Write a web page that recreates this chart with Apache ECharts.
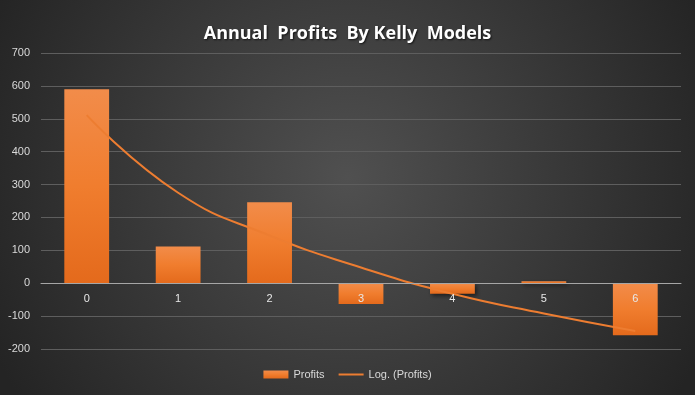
<!DOCTYPE html>
<html>
<head>
<meta charset="utf-8">
<script src="https://cdn.jsdelivr.net/npm/echarts@6/dist/echarts.min.js"></script>
<style>html,body{margin:0;padding:0;background:#333;}#c{width:695px;height:395px;}</style>
</head>
<body>
<div id="c"></div>
<script>
const categories = ['0','1','2','3','4','5','6'];
const profits = [590, 112, 246, -63, -32, 6, -158];
const logTrend = [511, 275, 145, 48, -32, -92, -145];
const yTicks = {min: -200, max: 700, interval: 100};

const chart = echarts.init(document.getElementById('c'));
chart.setOption({
  backgroundColor: {
    type: 'radial', x: 0.5, y: 0.45, r: 1.0,
    colorStops: [{offset: 0, color: '#505050'}, {offset: 1, color: '#242424'}]
  },
  title: {
    text: 'Annual  Profits  By Kelly  Models',
    left: 'center', top: 20,
    textStyle: {
      color: '#ffffff', fontFamily: 'Open Sans', fontWeight: 'bold', fontSize: 18,
      textShadowColor: 'rgba(0,0,0,0.7)', textShadowBlur: 2, textShadowOffsetX: 1, textShadowOffsetY: 1
    }
  },
  legend: {
    bottom: 10, left: 'center', itemGap: 14, itemWidth: 25, itemHeight: 8,
    textStyle: {color: '#d9d9d9', fontFamily: 'Liberation Sans', fontSize: 11},
    data: [
      {name: 'Profits', icon: 'rect'},
      {name: 'Log. (Profits)', icon: 'path://M0,4 L25,4 L25,6 L0,6 Z'}
    ]
  },
  grid: {left: 41, right: 14, top: 53, bottom: 46, containLabel: false},
  xAxis: {
    type: 'category', data: categories, offset: -66, z: 10,
    axisLine: {onZero: false, lineStyle: {color: '#a6a6a6', width: 1}},
    axisTick: {show: false},
    axisLabel: {color: '#e8e8e8', fontFamily: 'Liberation Sans', fontSize: 11, margin: 10},
    splitLine: {show: false}
  },
  yAxis: {
    type: 'value', min: yTicks.min, max: yTicks.max, interval: yTicks.interval,
    axisLine: {show: false}, axisTick: {show: false},
    axisLabel: {color: '#d9d9d9', fontFamily: 'Liberation Sans', fontSize: 11, margin: 11},
    splitLine: {lineStyle: {color: '#5e5e5e', width: 1}}
  },
  series: [
    {
      name: 'Profits', type: 'bar', data: profits, barWidth: '49%', z: 2,
      itemStyle: {
        color: new echarts.graphic.LinearGradient(0, 0, 0, 1, [
          {offset: 0, color: '#f28c4a'}, {offset: 0.5, color: '#f07d2e'}, {offset: 1, color: '#e46a1c'}
        ]),
        shadowColor: 'rgba(0,0,0,0.55)', shadowBlur: 4, shadowOffsetX: 2, shadowOffsetY: 2
      },
      emphasis: {disabled: true}
    },
    {
      name: 'Log. (Profits)', type: 'line', data: logTrend, smooth: true, z: 3,
      symbol: 'none', lineStyle: {color: '#ed7d31', width: 2},
      itemStyle: {color: '#ed7d31'},
      emphasis: {disabled: true}
    }
  ]
});
</script>
</body>
</html>
